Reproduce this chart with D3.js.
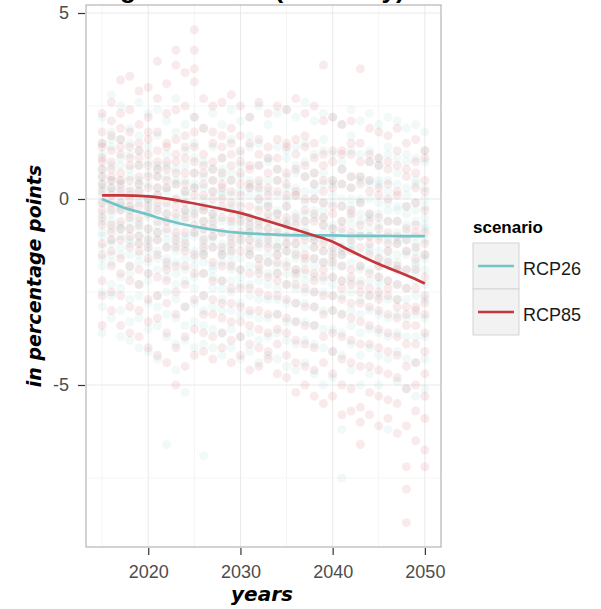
<!DOCTYPE html>
<html>
<head>
<meta charset="utf-8">
<script src="https://cdn.jsdelivr.net/npm/d3@7"></script>
<style>
  html, body { margin: 0; padding: 0; background: #fff; }
  svg { display: block; }
</style>
</head>
<body>
<svg id="chart" width="601" height="609"></svg>
<script>
// ---------------- data ----------------
const years = [2015,2016,2017,2018,2019,2020,2021,2022,2023,2024,2025,2026,2027,2028,2029,2030,2031,2032,2033,2034,2035,2036,2037,2038,2039,2040,2041,2042,2043,2044,2045,2046,2047,2048,2049,2050];
const scenarios = ["RCP26", "RCP85"];

// one string of values per year (2015..2050)
const rcp26Points = [
"2.2 1.5 1.2 0.6 0.4 0.1 -0.1 -0.6 -0.9 -1.0 -1.6 -1.8 -2.5 -2.9 -3.6 0.8 0.3 -0.4 -1.3",
"2.8 1.8 1.4 0.9 0.3 0.2 -0.2 -0.4 -0.8 -1.1 -1.2 -1.7 -2.3 -2.6 -3.2 1.6 -0.6 0.5 -1.5",
"2.5 1.6 1.1 0.5 0.3 -0.1 -0.3 -0.7 -0.8 -1.3 -1.5 -2.1 -2.4 -3.0 -3.7 0.1 0.9 -1.0 -0.2",
"1.9 1.5 0.8 0.6 0.1 -0.2 -0.4 -0.6 -1.1 -1.2 -1.8 -2.0 -2.7 -3.3 -3.8 1.2 -0.8 0.3 -1.5",
"2.6 1.7 1.3 0.5 0.2 -0.1 -0.6 -0.8 -1.0 -1.5 -1.7 -2.3 -2.6 -3.2 -4.0 0.4 -1.2 0.0 0.9",
"2.3 1.4 1.0 0.4 -0.1 -0.3 -0.5 -1.0 -1.2 -1.4 -2.0 -2.2 -2.8 -3.5 -4.1 0.0 0.7 -0.8 -1.7",
"2.4 1.7 0.9 0.6 0.1 -0.4 -0.7 -0.9 -1.4 -1.6 -1.9 -2.6 -2.9 -3.4 -4.3 0.8 -0.2 -1.1 0.3",
"2.1 1.2 0.9 0.3 -0.2 -0.4 -0.9 -1.1 -1.3 -1.8 -2.1 -2.5 -3.1 -3.7 -6.6 0.2 -0.6 0.6 -1.6",
"2.7 1.8 0.8 0.5 0.0 -0.5 -0.7 -1.2 -1.4 -1.7 -2.3 -2.7 -3.2 -3.9 -4.6 -0.6 0.4 -1.0 -2.0",
"2.0 1.3 0.5 0.2 -0.3 -0.6 -1.0 -1.1 -1.6 -1.9 -2.2 -2.9 -3.4 -3.8 -5.2 0.9 -0.4 -1.3 0.1",
"2.2 1.5 0.7 0.3 -0.2 -0.5 -1.0 -1.4 -1.6 -2.1 -2.4 -2.8 -3.3 -4.0 -0.9 0.4 -0.3 -1.8 1.1",
"1.9 1.0 0.6 0.0 -0.3 -0.8 -1.0 -1.2 -1.7 -2.0 -2.6 -3.0 -3.4 -3.9 -6.9 -1.4 0.3 -0.6 -1.5",
"2.3 1.4 0.8 0.2 -0.4 -0.7 -1.1 -1.3 -1.8 -2.1 -2.4 -2.9 -3.5 -4.0 -0.5 -1.9 0.5 -1.0 -0.2",
"2.0 1.1 0.6 0.2 -0.3 -0.6 -1.2 -1.4 -1.7 -2.2 -2.7 -3.0 -3.6 -4.2 0.8 -1.5 -0.9 0.1 -2.4",
"2.4 1.6 0.7 0.1 -0.3 -0.9 -1.1 -1.5 -1.9 -2.2 -2.5 -3.0 -3.5 -4.0 -0.2 -1.3 0.5 -0.7 -1.7",
"2.1 1.2 0.6 0.2 -0.4 -0.7 -1.2 -1.6 -1.9 -2.3 -2.8 -3.1 -3.7 -4.3 0.9 -1.0 -0.1 -0.5 -2.1",
"2.2 1.4 0.5 0.1 -0.5 -0.8 -1.1 -1.4 -1.8 -2.3 -2.6 -3.1 -3.6 -4.1 -0.6 1.7 -1.5 0.3 -0.9",
"2.5 1.5 0.9 0.2 -0.2 -0.7 -1.0 -1.6 -1.9 -2.2 -2.7 -3.2 -3.8 -4.4 -1.3 0.4 -0.5 -1.1 0.0",
"2.0 1.1 0.5 -0.1 -0.5 -1.0 -1.2 -1.5 -2.0 -2.3 -2.7 -3.2 -3.7 -4.2 -0.2 1.0 -0.8 -1.7 0.2",
"2.3 1.4 0.8 0.1 -0.4 -0.8 -1.3 -1.5 -1.8 -2.4 -2.7 -3.1 -3.6 -4.3 -1.0 0.5 -0.3 -2.0 -1.2",
"2.4 1.3 0.6 0.0 -0.6 -0.9 -1.2 -1.7 -2.0 -2.3 -2.8 -3.3 -3.8 -4.5 -0.7 1.1 -1.4 0.3 -0.2",
"2.2 1.4 0.7 0.1 -0.4 -0.9 -1.2 -1.6 -2.1 -2.4 -2.8 -3.3 -3.9 -4.6 0.3 -1.4 -0.6 -1.9 0.9",
"2.6 1.5 0.6 0.2 -0.4 -0.8 -1.3 -1.7 -2.0 -2.5 -2.8 -3.3 -3.8 -4.4 -0.1 1.0 -1.0 -0.6 -2.2",
"2.1 1.2 0.4 0.0 -0.5 -1.0 -1.3 -1.6 -2.1 -2.5 -2.9 -3.4 -3.9 -4.7 0.7 -1.1 -0.3 -1.8 0.2",
"2.3 1.3 0.7 -0.1 -0.5 -0.9 -1.4 -1.7 -2.2 -2.5 -3.0 -3.5 -4.0 -5.0 -0.3 1.6 -1.1 -0.7 0.4",
"2.2 1.2 0.5 -0.1 -0.7 -1.0 -1.4 -1.8 -2.1 -2.6 -3.0 -3.5 -4.1 -4.8 0.4 -0.8 -1.6 0.1 -2.3",
"2.0 1.0 0.4 -0.2 -0.6 -1.1 -1.4 -1.8 -2.2 -2.6 -3.1 -3.6 -4.2 -6.2 -7.5 0.8 -0.9 -1.5 0.0",
"2.4 1.3 0.6 0.0 -0.5 -1.0 -1.3 -1.7 -2.2 -2.5 -3.0 -3.4 -3.9 -4.6 -0.2 1.7 -1.2 -0.7 0.3",
"2.1 1.2 0.5 -0.1 -0.6 -1.0 -1.5 -1.8 -2.2 -2.7 -3.1 -3.6 -4.2 -5.0 0.6 -0.9 -1.9 0.0 -0.4",
"2.3 1.3 0.5 0.0 -0.5 -1.0 -1.4 -1.9 -2.2 -2.6 -3.0 -3.5 -4.0 -4.7 -0.4 1.0 -1.3 -0.8 0.4",
"2.0 1.1 0.4 -0.1 -0.7 -1.0 -1.4 -1.8 -2.3 -2.6 -3.1 -3.6 -4.2 -5.0 0.5 -1.6 -0.4 -2.1 0.9",
"2.2 1.2 0.5 -0.1 -0.6 -1.1 -1.4 -1.8 -2.2 -2.7 -3.2 -3.7 -4.3 -6.2 -0.3 1.4 -1.0 -1.6 0.2",
"2.1 1.1 0.4 -0.2 -0.6 -1.1 -1.5 -1.9 -2.3 -2.7 -3.1 -3.6 -4.1 -4.9 0.7 -0.9 -0.3 -1.7 -1.2",
"1.9 1.0 0.3 -0.2 -0.7 -1.1 -1.5 -1.9 -2.4 -2.7 -3.2 -3.7 -4.3 -5.1 -0.4 1.2 -0.9 -1.4 0.1",
"2.0 1.1 0.4 -0.1 -0.6 -1.0 -1.4 -1.8 -2.2 -2.6 -3.1 -3.7 -4.4 -5.3 0.5 -1.7 -1.2 -0.3 -2.0",
"1.8 1.0 0.3 -0.2 -0.7 -1.1 -1.5 -1.9 -2.3 -2.7 -3.2 -3.7 -4.3 -5.1 -0.5 1.3 -0.8 -1.6 0.0"
];

const rcp85Points = [
"2.3 1.8 1.5 1.1 0.8 0.6 0.2 -0.1 -0.5 -0.7 -1.2 -1.5 -2.2 -2.6 -3.4 1.0 0.4 -0.3 1.4",
"2.6 2.1 1.3 1.0 0.6 0.3 0.1 -0.3 -0.7 -0.9 -1.4 -1.8 -2.5 -3.0 0.8 1.7 -0.1 0.5 -1.1",
"3.2 2.3 1.6 1.2 0.7 0.4 -0.1 -0.3 -0.6 -1.1 -1.6 -2.0 -2.6 -3.4 0.5 1.4 0.2 -0.8 1.9",
"3.3 2.4 1.8 1.1 0.5 0.2 -0.2 -0.5 -0.8 -1.3 -1.8 -2.2 -2.9 -3.6 0.9 -0.3 1.4 0.0 -1.0",
"2.9 2.0 1.5 0.9 0.6 0.2 -0.2 -0.7 -1.0 -1.4 -1.9 -2.3 -3.0 -3.7 1.3 0.4 -0.5 1.1 -1.2",
"3.0 2.2 1.6 0.9 0.3 0.0 -0.4 -0.8 -1.1 -1.6 -2.0 -2.7 -3.3 -4.0 1.2 0.6 -0.2 -1.3 1.8",
"3.7 2.7 1.8 1.3 0.6 0.1 -0.3 -0.6 -1.1 -1.5 -2.1 -2.6 -3.2 -4.2 0.8 -0.1 1.0 -0.9 0.3",
"3.1 2.3 1.5 1.0 0.5 -0.1 -0.4 -0.8 -1.3 -1.7 -2.2 -2.8 -3.6 -4.4 1.4 0.3 -0.6 0.8 -1.9",
"4.0 3.6 2.4 1.6 1.0 0.4 0.0 -0.4 -0.9 -1.3 -1.8 -2.5 -3.1 -4.0 -5.0 1.2 0.7 -0.2 -1.1",
"3.4 2.5 1.7 1.1 0.4 -0.1 -0.5 -0.9 -1.4 -1.8 -2.3 -2.9 -3.7 -4.5 0.7 1.4 -0.3 0.2 -1.2",
"4.55 4.0 3.5 3.15 2.2 1.4 0.7 0.1 -0.4 -0.9 -1.5 -2.0 -2.7 -3.5 -4.2 1.0 0.3 -0.7 1.8",
"2.7 1.9 1.2 0.7 0.1 -0.3 -0.8 -1.1 -1.5 -2.0 -2.6 -3.1 -3.6 -4.1 0.9 -0.2 0.4 -1.3 -0.6",
"2.5 1.8 1.0 0.5 0.0 -0.4 -0.8 -1.3 -1.7 -2.2 -2.7 -3.1 -3.7 -4.3 0.8 1.5 -0.6 -1.0 0.2",
"2.6 1.7 1.1 0.4 0.0 -0.5 -0.9 -1.3 -1.8 -2.2 -2.8 -3.2 -3.6 -4.0 0.3 1.4 -0.2 -1.5 0.7",
"2.8 1.9 1.2 0.5 -0.1 -0.6 -1.0 -1.4 -1.8 -2.4 -2.8 -3.3 -3.8 -4.4 0.2 1.5 -0.5 -1.2 0.9",
"2.5 1.7 1.0 0.4 -0.2 -0.6 -1.1 -1.4 -1.9 -2.4 -2.9 -3.3 -3.7 -4.2 0.7 -0.4 1.3 -0.9 0.1",
"2.2 1.5 0.8 0.3 -0.2 -0.7 -1.1 -1.5 -2.0 -2.4 -3.0 -3.4 -3.9 -4.6 0.9 -0.9 0.4 -1.3 -0.5",
"2.6 1.6 0.9 0.3 -0.3 -0.8 -1.2 -1.6 -2.0 -2.5 -3.0 -3.5 -4.0 -4.5 0.5 1.2 -0.6 -1.8 0.0",
"2.3 1.4 0.7 0.1 -0.4 -0.8 -1.3 -1.7 -2.1 -2.6 -3.1 -3.6 -4.1 -4.3 0.3 -0.6 1.1 -1.1 -0.2",
"2.5 1.6 0.8 0.2 -0.4 -0.9 -1.3 -1.7 -2.2 -2.6 -3.1 -3.5 -3.9 -4.7 1.1 -1.5 0.5 -0.6 -2.0",
"2.4 1.5 0.7 0.1 -0.5 -1.0 -1.4 -1.8 -2.3 -2.7 -3.2 -3.6 -4.2 -4.8 0.4 -0.7 1.4 -1.2 -0.2",
"2.7 1.6 0.8 0.1 -0.5 -1.0 -1.5 -1.9 -2.3 -2.8 -3.3 -3.8 -4.4 -5.2 0.2 -1.2 1.2 -0.7 -2.0",
"2.3 1.4 0.6 0.0 -0.6 -1.1 -1.5 -1.9 -2.4 -2.9 -3.4 -3.9 -4.5 -5.0 0.9 -0.3 1.7 -1.6 -0.9",
"2.5 1.5 0.7 0.0 -0.6 -1.1 -1.6 -2.0 -2.5 -2.9 -3.4 -4.0 -4.6 -5.3 0.4 -1.3 1.1 -0.4 -2.2",
"3.6 2.1 1.2 0.5 -0.1 -0.7 -1.2 -1.7 -2.1 -2.6 -3.1 -3.7 -4.4 -5.5 0.2 -1.4 0.9 -0.5 -1.9",
"2.2 1.3 0.5 -0.2 -0.8 -1.3 -1.7 -2.1 -2.6 -3.0 -3.6 -4.1 -4.7 -5.3 0.3 -1.0 1.0 -1.5 -0.4",
"2.0 1.2 0.4 -0.2 -0.8 -1.3 -1.8 -2.2 -2.7 -3.1 -3.7 -4.3 -5.0 -5.8 0.8 -1.5 1.3 -0.6 -2.4",
"2.1 1.2 0.3 -0.3 -0.9 -1.4 -1.9 -2.3 -2.8 -3.2 -3.8 -4.4 -5.1 -5.7 0.6 -1.1 1.5 -0.4 -2.1",
"3.5 1.5 0.6 -0.1 -0.7 -1.3 -1.8 -2.3 -2.8 -3.3 -3.9 -4.5 -5.6 -6.0 -6.6 0.4 1.0 -1.0 -2.5",
"1.9 1.0 0.2 -0.4 -1.0 -1.5 -2.0 -2.4 -2.9 -3.4 -3.9 -4.5 -5.2 -5.8 0.5 -1.2 1.2 -0.6 -2.6",
"1.8 0.9 0.1 -0.5 -1.1 -1.6 -2.1 -2.5 -3.0 -3.5 -4.0 -4.6 -5.3 -6.1 0.3 -1.8 1.1 -0.8 -2.7",
"1.7 0.8 0.0 -0.6 -1.2 -1.7 -2.2 -2.6 -3.1 -3.6 -4.1 -4.7 -5.4 -5.9 0.4 -1.4 1.0 -0.9 -2.4",
"1.9 0.9 0.1 -0.6 -1.2 -1.8 -2.3 -2.7 -3.2 -3.7 -4.2 -4.8 -5.5 -6.3 0.2 -1.9 1.3 -1.0 -2.9",
"1.5 0.6 -0.2 -0.8 -1.4 -1.9 -2.4 -2.9 -3.4 -3.9 -4.5 -5.1 -6.1 -7.2 -7.8 -8.7 0.8 -1.1 -3.1",
"1.6 0.7 -0.1 -0.7 -1.3 -1.9 -2.4 -2.9 -3.4 -3.9 -4.4 -5.0 -5.7 -6.5 0.3 -1.6 1.0 -0.9 -3.0",
"1.3 0.5 -0.3 -0.9 -1.5 -2.1 -2.6 -3.1 -3.6 -4.1 -4.7 -5.3 -5.9 -6.75 -7.2 0.2 1.1 -1.2 -2.8"
];

// smoothed trend per scenario
const smoothYears = [2015, 2017, 2020, 2022, 2025, 2028, 2030, 2033, 2035, 2038, 2040, 2042, 2045, 2048, 2050];
const rcp26Smooth = [0.0, -0.2, -0.42, -0.57, -0.74, -0.86, -0.91, -0.95, -0.97, -0.98, -0.98, -0.99, -0.99, -1.0, -1.0];
const rcp85Smooth = [0.10, 0.10, 0.07, 0.01, -0.12, -0.27, -0.38, -0.6, -0.75, -0.98, -1.15, -1.40, -1.75, -2.05, -2.27];

const xTicks = [2020, 2030, 2040, 2050];
const xMinor = [2015, 2025, 2035, 2045];
const yTicks = [-5, 0, 5];
const yMinor = [-7.5, -2.5, 2.5];

// ---------------- layout ----------------
const svg = d3.select("#chart");
const P = { left: 86, right: 441, top: 5, bottom: 547 };
const colors = { RCP26: "#72c4c6", RCP85: "#c4373d" };

const x = d3.scaleLinear().domain([2013.25, 2051.75]).range([P.left, P.right]);
const y = d3.scaleLinear().domain([-9.355, 5.215]).range([P.bottom, P.top]);

// title, cut off at the top edge as in the reference (only descenders show)
svg.append("text")
  .attr("x", 55).attr("y", -2.5)
  .attr("font-family", "Liberation Sans, Arial, sans-serif")
  .attr("font-weight", "bold").attr("font-size", 26)
  .attr("fill", "#000")
  .text("Change in labour (Germany)");

// panel background
svg.append("rect")
  .attr("x", P.left).attr("y", P.top)
  .attr("width", P.right - P.left).attr("height", P.bottom - P.top)
  .attr("fill", "#fff");

const grid = svg.append("g");
grid.selectAll(".xmin").data(xMinor).join("line")
  .attr("x1", d => x(d)).attr("x2", d => x(d))
  .attr("y1", P.top).attr("y2", P.bottom)
  .attr("stroke", "#f3f3f3").attr("stroke-width", 0.8);
grid.selectAll(".ymin").data(yMinor).join("line")
  .attr("y1", d => y(d)).attr("y2", d => y(d))
  .attr("x1", P.left).attr("x2", P.right)
  .attr("stroke", "#f3f3f3").attr("stroke-width", 0.8);
grid.selectAll(".xmaj").data(xTicks).join("line")
  .attr("x1", d => x(d)).attr("x2", d => x(d))
  .attr("y1", P.top).attr("y2", P.bottom)
  .attr("stroke", "#e9e9e9").attr("stroke-width", 1);
grid.selectAll(".ymaj").data(yTicks).join("line")
  .attr("y1", d => y(d)).attr("y2", d => y(d))
  .attr("x1", P.left).attr("x2", P.right)
  .attr("stroke", "#e9e9e9").attr("stroke-width", 1);

// points
function parsePoints(rows, scen) {
  const out = [];
  rows.forEach((s, i) => {
    s.trim().split(/\s+/).forEach(v => out.push({ year: years[i], value: +v, scen }));
  });
  return out;
}
const pts = parsePoints(rcp26Points, "RCP26").concat(parsePoints(rcp85Points, "RCP85"));
svg.append("g").selectAll("circle").data(pts).join("circle")
  .attr("cx", d => x(d.year)).attr("cy", d => y(d.value))
  .attr("r", 4.5)
  .attr("fill", d => colors[d.scen])
  .attr("fill-opacity", 0.1);

// smooth lines
const lineGen = d3.line().x(d => x(d[0])).y(d => y(d[1])).curve(d3.curveMonotoneX);
[["RCP26", rcp26Smooth], ["RCP85", rcp85Smooth]].forEach(([s, vals]) => {
  svg.append("path")
    .datum(smoothYears.map((yr, i) => [yr, vals[i]]))
    .attr("d", lineGen)
    .attr("fill", "none")
    .attr("stroke", colors[s])
    .attr("stroke-width", 2.7);
});

// border
svg.append("rect")
  .attr("x", P.left).attr("y", P.top)
  .attr("width", P.right - P.left).attr("height", P.bottom - P.top)
  .attr("fill", "none").attr("stroke", "#b5b5b5").attr("stroke-width", 1.2);

// axes
const tickFont = "Liberation Sans, Arial, sans-serif";
const xAxis = svg.append("g").attr("transform", `translate(0,${P.bottom + 1})`)
  .call(d3.axisBottom(x).tickValues(xTicks).tickFormat(d3.format("d")).tickSize(7).tickPadding(10));
const yAxis = svg.append("g").attr("transform", `translate(${P.left - 1},0)`)
  .call(d3.axisLeft(y).tickValues(yTicks).tickFormat(d => d < 0 ? "-" + Math.abs(d) : d).tickSize(7).tickPadding(9));
[xAxis, yAxis].forEach(a => {
  a.select(".domain").remove();
  a.selectAll(".tick line").attr("stroke", "#333").attr("stroke-width", 1.2);
  a.selectAll(".tick text").attr("fill", "#4d4d4d").attr("font-size", 18).attr("font-family", tickFont);
});

// axis titles
const titleFont = "DejaVu Sans, sans-serif";
svg.append("text")
  .attr("x", 262).attr("y", 601)
  .attr("text-anchor", "middle")
  .attr("font-family", titleFont).attr("font-weight", "bold").attr("font-style", "italic")
  .attr("font-size", 20).attr("fill", "#000")
  .text("years");
svg.append("text")
  .attr("transform", `translate(41,${(P.top + P.bottom) / 2}) rotate(-90)`)
  .attr("text-anchor", "middle")
  .attr("font-family", titleFont).attr("font-weight", "bold").attr("font-style", "italic")
  .attr("font-size", 19).attr("fill", "#000")
  .text("in percentage points");

// legend
const lg = svg.append("g");
lg.append("text").attr("x", 473).attr("y", 233)
  .attr("font-family", tickFont).attr("font-weight", "bold").attr("font-size", 17)
  .attr("fill", "#000").text("scenario");
scenarios.forEach((s, i) => {
  const top = 243 + i * 46;
  lg.append("rect").attr("x", 473).attr("y", top).attr("width", 46).attr("height", 46)
    .attr("fill", "#f2f2f2").attr("stroke", "#d4d4d4").attr("stroke-width", 1);
  lg.append("line").attr("x1", 478).attr("x2", 514)
    .attr("y1", top + 23).attr("y2", top + 23)
    .attr("stroke", colors[s]).attr("stroke-width", 2.7);
  lg.append("text").attr("x", 523).attr("y", top + 32)
    .attr("font-family", tickFont).attr("font-size", 18).attr("fill", "#1a1a1a")
    .text(s);
});
</script>
</body>
</html>
